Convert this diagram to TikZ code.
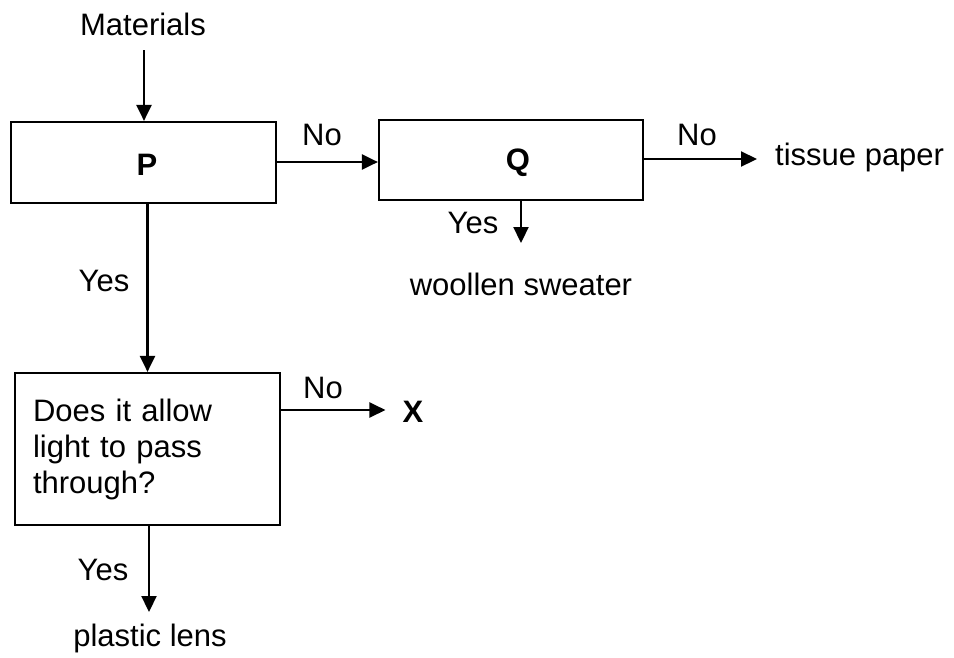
\documentclass[tikz,border=0pt]{standalone}
\usepackage{fontspec}
\setmainfont{Liberation Sans}
\usetikzlibrary{arrows.meta}
\begin{document}
\begin{tikzpicture}[x=1pt,y=-1pt,
  lbl/.style={anchor=base,inner sep=0pt,font=\fontsize{31}{36}\selectfont},
  box/.style={draw,line width=2.2pt,inner sep=0pt},
  arr/.style={line width=2.2pt,-{Triangle[length=16pt,width=15pt]}}]
\useasboundingbox (0,0) rectangle (954,657);
% boxes
\node[box,minimum width=265pt,minimum height=81pt] (P) at (143.5,162.5) {};
\node[lbl,font=\fontsize{31}{36}\selectfont\bfseries] (Pt) at (147,175) {P};
\node[box,minimum width=264pt,minimum height=80pt] (Q) at (511,160) {};
\node[lbl,font=\fontsize{31}{36}\selectfont\bfseries] (Qt) at (518,170) {Q};
\node[box,minimum width=265pt,minimum height=152pt,text width=229pt,inner xsep=18pt,align=left,
      font=\fontsize{31}{36}\selectfont] (B) at (147.5,449) {Does it allow\\light to pass\\through?};
% labels
\node[lbl] (mat) at (143,35) {Materials};
\node[lbl] (no1) at (322,145) {No};
\node[lbl] (no2) at (697,145) {No};
\node[lbl,anchor=base west] (tissue) at (775,165) {tissue paper};
\node[lbl] (yes1) at (473,233) {Yes};
\node[lbl] (wool) at (521,295) {woollen sweater};
\node[lbl] (yes2) at (104,291) {Yes};
\node[lbl] (no3) at (323,398) {No};
\node[lbl,font=\fontsize{31}{36}\selectfont\bfseries] (X) at (413,422) {X};
\node[lbl] (yes3) at (103,580) {Yes};
\node[lbl] (lens) at (150,646) {plastic lens};
% connectors
\coordinate (mtop) at (144,50);
\draw[arr] (mtop) -- (mtop |- P.north);
\draw[arr] (P.east |- 0,162) -- (Q.west |- 0,162);
\draw[arr] (Q.east |- 0,159) -- ([xshift=-18pt]tissue.west |- 0,159);
\coordinate (qtip) at (521,243);
\draw[arr] (qtip |- Q.south) -- (qtip);
\draw[arr] (B.north |- P.south) -- (B.north);
\draw[arr] (B.east |- 0,410) -- ([xshift=-17pt]X.west |- 0,410);
\coordinate (btip) at (149,612);
\draw[arr] (btip |- B.south) -- (btip);
\end{tikzpicture}
\end{document}
